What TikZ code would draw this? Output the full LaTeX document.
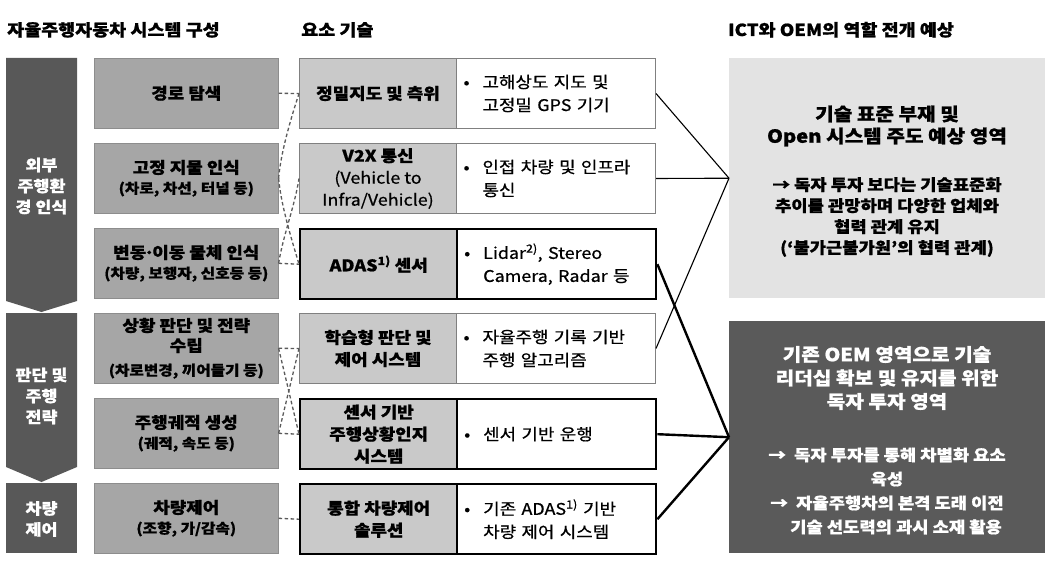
\documentclass[tikz,border=0pt]{standalone}
\usepackage{fontspec}
\setmainfont{Noto Sans CJK KR}[FakeStretch=1.12, UprightFeatures={FakeBold=0.6}, BoldFeatures={FakeBold=0.9}]
\definecolor{coldark}{HTML}{585858}
\definecolor{colmid}{HTML}{A6A6A6}
\definecolor{coltech}{HTML}{C9C9C9}
\definecolor{collight}{HTML}{E3E3E3}
\definecolor{colrdark}{HTML}{5A5A5A}
\definecolor{coldash}{HTML}{5A5A5A}
\newcommand{\subtx}[1]{{\fontsize{14}{18}\selectfont #1}}
\newcommand{\mybul}{\makebox[19pt][l]{•}}
\newcommand{\myind}{\hspace*{19pt}}
\newcommand{\middot}{\kern-0.15em·\kern-0.15em}
\begin{document}
\begin{tikzpicture}[x=1pt,y=-1pt,
  hdr/.style={inner sep=0pt, font=\fontsize{16.5}{20}\selectfont\bfseries},
  coltext/.style={text=white, align=center, inner sep=0pt, font=\fontsize{15.5}{21}\selectfont\bfseries},
  leftbox/.style={draw=colmid!85!black, line width=0.6pt, fill=colmid, minimum width=184pt, minimum height=70pt, inner sep=0pt, align=center, anchor=north west, font=\fontsize{16}{20}\selectfont\bfseries},
  techbox/.style={draw=black!50, line width=1pt, fill=coltech, minimum width=157pt, minimum height=70pt, inner sep=0pt, align=center, anchor=north west, font=\fontsize{16}{22}\selectfont\bfseries},
  descbox/.style={draw=black!50, line width=1pt, fill=white, minimum width=199pt, minimum height=70pt, inner xsep=7pt, inner ysep=0pt, text width=185pt, align=left, anchor=north west, font=\fontsize{16}{23}\selectfont},
  heavy/.style={draw=black, line width=2.4pt},
  thinc/.style={draw=black, line width=1.1pt},
  thickc/.style={draw=black, line width=2.4pt},
  dashc/.style={draw=coldash, line width=1.3pt, dash pattern=on 3.5pt off 2.5pt}
]
\useasboundingbox (0,0) rectangle (1055,580);
\fill[white] (0,0) rectangle (1055,580);

% headers
\node[hdr, anchor=base west] (h1) at (7,36) {자율주행자동차 시스템 구성};
\node[hdr, anchor=base west] (h2) at (301,36) {요소 기술};
\node[hdr, anchor=base west] (h3) at (728,36) {ICT와 OEM의 역할 전개 예상};

% left column chevrons
\fill[coldark] (6,58) -- (77,58) -- (77,301) -- (41.5,312) -- (6,301) -- cycle;
\fill[coldark] (6,313) -- (77,313) -- (77,467) -- (41.5,482) -- (6,467) -- cycle;
\fill[coldark] (6,483) rectangle (77,553);
\node[coltext] (c1) at (41.5,186) {외부\\주행환\\경 인식};
\node[coltext] (c2) at (41.5,396) {판단 및\\주행\\전략};
\node[coltext] (c3) at (41.5,519) {차량\\제어};

% left boxes
\node[leftbox] (L1) at (94,58) {경로 탐색};
\node[leftbox] (L2) at (94,143) {고정 지물 인식\\\subtx{(차로, 차선, 터널 등)}};
\node[leftbox] (L3) at (94,228) {변동\middot 이동 물체 인식\\\subtx{(차량, 보행자, 신호등 등)}};
\node[leftbox] (L4) at (94,313) {상황 판단 및 전략\\수립\\[4pt]\subtx{(차로변경, 끼어들기 등)}};
\node[leftbox] (L5) at (94,398) {주행궤적 생성\\\subtx{(궤적, 속도 등)}};
\node[leftbox] (L6) at (94,483) {차량제어\\\subtx{(조향, 가/감속)}};

% technology boxes
\node[techbox] (T1) at (299,58) {정밀지도 및 측위};
\node[descbox] (D1) at (456,58) {\mybul 고해상도 지도 및\\\myind 고정밀 GPS 기기};
\node[techbox] (T2) at (299,143) {V2X 통신\\{\mdseries (Vehicle to}\\{\mdseries Infra/Vehicle)}};
\node[descbox] (D2) at (456,143) {\mybul 인접 차량 및 인프라\\\myind 통신};
\node[techbox, heavy] (T3) at (299,228) {ADAS\textsuperscript{1)} 센서};
\node[descbox, heavy] (D3) at (456,228) {\mybul Lidar\textsuperscript{2)}, Stereo\\\myind Camera, Radar 등};
\node[techbox] (T4) at (299,313) {학습형 판단 및\\제어 시스템};
\node[descbox] (D4) at (456,313) {\mybul 자율주행 기록 기반\\\myind 주행 알고리즘};
\node[techbox, heavy] (T5) at (299,398) {센서 기반\\주행상황인지\\시스템};
\node[descbox, heavy] (D5) at (456,398) {\mybul 센서 기반 운행};
\node[techbox, heavy] (T6) at (299,483) {통합 차량제어\\솔루션};
\node[descbox, heavy] (D6) at (456,483) {\mybul 기존 ADAS\textsuperscript{1)} 기반\\\myind 차량 제어 시스템};

% right boxes
\node[fill=collight, minimum width=316pt, minimum height=240pt, inner sep=0pt, anchor=north west] (light) at (729,58) {};
\node[align=center, inner sep=0pt, font=\fontsize{18}{22}\selectfont\bfseries] (lt) at (887,126) {기술 표준 부재 및\\Open 시스템 주도 예상 영역};
\node[align=center, inner sep=0pt, font=\fontsize{15.8}{21}\selectfont\bfseries] (lb) at (887,217) {→ 독자 투자 보다는 기술표준화\\추이를 관망하며 다양한 업체와\\협력 관계 유지\\(‘불가근불가원’의 협력 관계)};
\node[fill=colrdark, minimum width=316pt, minimum height=232pt, inner sep=0pt, anchor=north west] (dark) at (729,321) {};
\node[align=center, inner sep=0pt, text=white, font=\fontsize{18}{23.5}\selectfont\bfseries] (dt) at (887,378) {기존 OEM 영역으로 기술\\리더십 확보 및 유지를 위한\\독자 투자 영역};
\node[align=center, inner sep=0pt, text=white, font=\fontsize{15.8}{24}\selectfont\bfseries] (db) at (887,491) {→\ \ 독자 투자를 통해 차별화 요소\\육성\\→\ \ 자율주행차의 본격 도래 이전\\\hspace*{18pt}기술 선도력의 과시 소재 활용};

% solid connectors
\draw[thinc] (D1.east) -- (light.west);
\draw[thinc] (D2.east) -- (light.west);
\draw[thinc] (D4.east) -- (light.west);
\draw[thickc] (D3.east) -- (dark.west);
\draw[thickc] (D5.east) -- (dark.west);
\draw[thickc] (D6.east) -- (dark.west);

% dashed connectors
\draw[dashc] (L1.east) -- (T1.west);
\draw[dashc] (L2.east) .. controls (281,150) and (293,112) .. (T1.west);
\draw[dashc] (L2.east) .. controls (281,206) and (293,244) .. (T3.west);
\draw[dashc] (L3.east) -- (T3.west);
\draw[dashc] (L3.east) .. controls (283,236) and (295,205) .. (T2.west);
\draw[dashc] (L4.east) -- (T4.west);
\draw[dashc] (L5.east) -- (T5.west);
\draw[dashc] (L4.east) -- (T5.west);
\draw[dashc] (L5.east) -- (T4.west);
\draw[dashc] (L6.east) -- (T6.west);
\end{tikzpicture}
\end{document}
